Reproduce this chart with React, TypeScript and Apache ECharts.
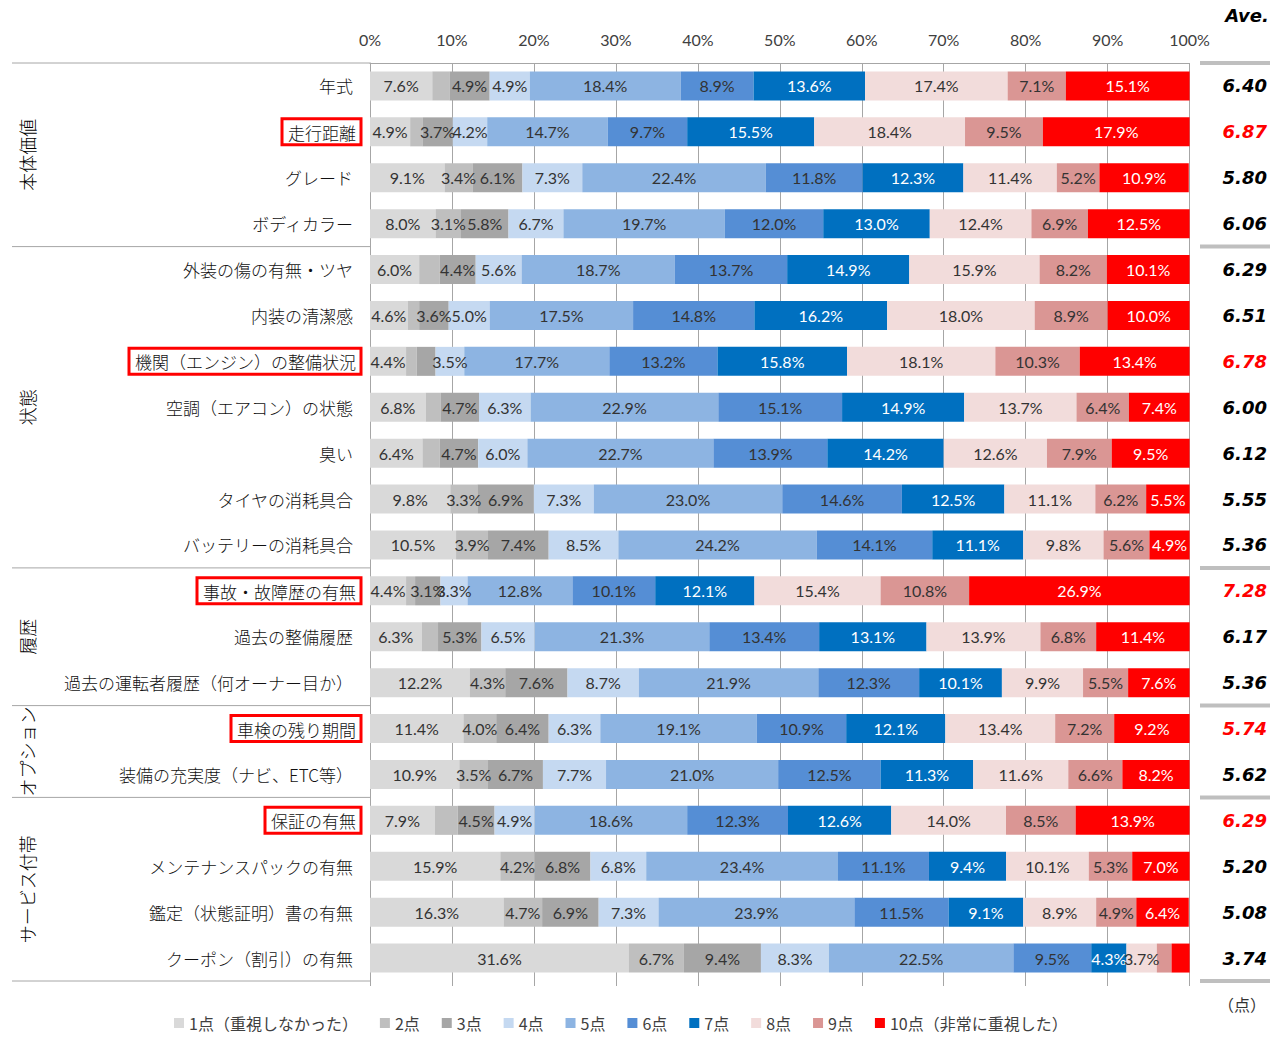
import React, { useEffect, useRef } from "react";
import * as echarts from "echarts";

const categories = [
  "年式",
  "走行距離",
  "グレード",
  "ボディカラー",
  "外装の傷の有無・ツヤ",
  "内装の清潔感",
  "機関（エンジン）の整備状況",
  "空調（エアコン）の状態",
  "臭い",
  "タイヤの消耗具合",
  "バッテリーの消耗具合",
  "事故・故障歴の有無",
  "過去の整備履歴",
  "過去の運転者履歴（何オーナー目か）",
  "車検の残り期間",
  "装備の充実度（ナビ、ETC等）",
  "保証の有無",
  "メンテナンスパックの有無",
  "鑑定（状態証明）書の有無",
  "クーポン（割引）の有無",
];

const scoreNames = [
  "1点（重視しなかった）",
  "2点",
  "3点",
  "4点",
  "5点",
  "6点",
  "7点",
  "8点",
  "9点",
  "10点（非常に重視した）",
];

const p1 = [7.6, 4.9, 9.1, 8.0, 6.0, 4.6, 4.4, 6.8, 6.4, 9.8, 10.5, 4.4, 6.3, 12.2, 11.4, 10.9, 7.9, 15.9, 16.3, 31.6];
const p2 = [2.1, 1.5, 3.4, 3.1, 2.5, 1.4, 1.3, 1.8, 2.1, 3.3, 3.9, 1.1, 2.0, 4.3, 4.0, 3.5, 2.8, 4.2, 4.7, 6.7];
const p3 = [4.9, 3.7, 6.1, 5.8, 4.4, 3.6, 2.3, 4.7, 4.7, 6.9, 7.4, 3.1, 5.3, 7.6, 6.4, 6.7, 4.5, 6.8, 6.9, 9.4];
const p4 = [4.9, 4.2, 7.3, 6.7, 5.6, 5.0, 3.5, 6.3, 6.0, 7.3, 8.5, 3.3, 6.5, 8.7, 6.3, 7.7, 4.9, 6.8, 7.3, 8.3];
const p5 = [18.4, 14.7, 22.4, 19.7, 18.7, 17.5, 17.7, 22.9, 22.7, 23.0, 24.2, 12.8, 21.3, 21.9, 19.1, 21.0, 18.6, 23.4, 23.9, 22.5];
const p6 = [8.9, 9.7, 11.8, 12.0, 13.7, 14.8, 13.2, 15.1, 13.9, 14.6, 14.1, 10.1, 13.4, 12.3, 10.9, 12.5, 12.3, 11.1, 11.5, 9.5];
const p7 = [13.6, 15.5, 12.3, 13.0, 14.9, 16.2, 15.8, 14.9, 14.2, 12.5, 11.1, 12.1, 13.1, 10.1, 12.1, 11.3, 12.6, 9.4, 9.1, 4.3];
const p8 = [17.4, 18.4, 11.4, 12.4, 15.9, 18.0, 18.1, 13.7, 12.6, 11.1, 9.8, 15.4, 13.9, 9.9, 13.4, 11.6, 14.0, 10.1, 8.9, 3.7];
const p9 = [7.1, 9.5, 5.2, 6.9, 8.2, 8.9, 10.3, 6.4, 7.9, 6.2, 5.6, 10.8, 6.8, 5.5, 7.2, 6.6, 8.5, 5.3, 4.9, 1.8];
const p10 = [15.1, 17.9, 10.9, 12.5, 10.1, 10.0, 13.4, 7.4, 9.5, 5.5, 4.9, 26.9, 11.4, 7.6, 9.2, 8.2, 13.9, 7.0, 6.4, 2.2];
const scoreData = [p1, p2, p3, p4, p5, p6, p7, p8, p9, p10];

const aveValues = [6.40, 6.87, 5.80, 6.06, 6.29, 6.51, 6.78, 6.00, 6.12, 5.55, 5.36, 7.28, 6.17, 5.36, 5.74, 5.62, 6.29, 5.20, 5.08, 3.74];
const highlighted = [1, 6, 11, 14, 16];

const groupNames = ["本体価値", "状態", "履歴", "オプション", "サービス付帯"];
const groupSizes = [4, 7, 3, 2, 4];

const xTickPercents = [0, 100, 10];

// styles
const scoreColors = ["#D9D9D9", "#BFBFBF", "#A6A6A6", "#C5D9F1", "#8DB4E2", "#558ED5", "#0070C0", "#F2DCDB", "#DA9694", "#FF0000"];
const labelColors = ["#333", "#333", "#333", "#333", "#333", "#333", "#FFFFFF", "#333", "#333", "#FFFFFF"];
const JP = '"Noto Sans CJK JP", sans-serif';
const NUM = 'Lato, "Noto Sans", sans-serif';
const AVE = '"DejaVu Sans", sans-serif';
const GRID_LEFT = 370;
const GRID_RIGHT = 78;
const GRID_TOP = 63;
const GRID_BOTTOM = 56;
const W = 1270;
const H = 1037;

export default function App() {
  const ref = useRef<HTMLDivElement>(null);

  useEffect(() => {
    if (!ref.current) return;
    const chart = echarts.init(ref.current, null, { renderer: "svg" });
    const hl = new Set(highlighted);

    const series = scoreData.map((d, k) => ({
      name: scoreNames[k],
      type: "bar",
      stack: "total",
      barWidth: 29,
      silent: true,
      xAxisIndex: 0,
      yAxisIndex: 0,
      itemStyle: { color: scoreColors[k] },
      label: {
        show: true,
        position: "inside",
        fontSize: 16,
        fontFamily: NUM,
        color: labelColors[k],
        formatter: (p: any) => (p.value >= 3 ? Number(p.value).toFixed(1) + "%" : ""),
      },
      data: d,
    }));

    chart.setOption({
      animation: false,
      backgroundColor: "#FFFFFF",
      grid: { left: GRID_LEFT, right: GRID_RIGHT, top: GRID_TOP, bottom: GRID_BOTTOM, containLabel: false },
      legend: {
        data: scoreNames,
        left: 174,
        top: 1015,
        padding: 0,
        icon: "rect",
        itemWidth: 10,
        itemHeight: 10,
        itemGap: 22,
        selectedMode: false,
        textStyle: { fontSize: 16, lineHeight: 16, color: "#404040", fontFamily: JP },
      },
      xAxis: [
        {
          type: "value",
          position: "top",
          min: xTickPercents[0],
          max: xTickPercents[1],
          interval: xTickPercents[2],
          axisLine: { show: true, lineStyle: { color: "#A6A6A6", width: 1 } },
          axisTick: { show: false },
          axisLabel: { formatter: "{value}%", fontSize: 16, color: "#404040", fontFamily: NUM, margin: 16 },
          splitLine: { show: true, lineStyle: { color: "#A6A6A6", width: 1 } },
        },
        {
          type: "value",
          position: "bottom",
          min: xTickPercents[0],
          max: xTickPercents[1],
          interval: xTickPercents[2],
          axisLine: { show: false },
          axisTick: { show: true, length: 5, lineStyle: { color: "#A6A6A6" } },
          axisLabel: { show: false },
          splitLine: { show: false },
        },
      ],
      yAxis: [
        {
          type: "category",
          data: categories,
          inverse: true,
          axisLine: { show: true, lineStyle: { color: "#A6A6A6", width: 1 } },
          axisTick: { show: false },
          axisLabel: {
            margin: 9,
            interval: 0,
            formatter: (v: string, i: number) => (hl.has(i) ? `{hl|${v}}` : `{n|${v}}`),
            rich: {
              n: { fontSize: 17, color: "#111", fontFamily: JP, fontWeight: 300, padding: [0, 8, 0, 0] },
              hl: {
                fontSize: 17,
                color: "#111",
                fontFamily: JP,
                fontWeight: 300,
                borderColor: "#FF0000",
                borderWidth: 3,
                padding: [5, 5, 4, 6],
              },
            },
          },
        },
        {
          type: "category",
          data: categories,
          inverse: true,
          position: "right",
          axisLine: { show: false },
          axisTick: { show: false },
          axisLabel: {
            margin: 33,
            interval: 0,
            formatter: (_v: string, i: number) =>
              hl.has(i) ? `{r|${aveValues[i].toFixed(2)}}` : `{k|${aveValues[i].toFixed(2)}}`,
            rich: {
              r: { fontSize: 18, color: "#FF0000", fontFamily: AVE, fontWeight: "bold", fontStyle: "italic" },
              k: { fontSize: 18, color: "#000000", fontFamily: AVE, fontWeight: "bold", fontStyle: "italic" },
            },
          },
        },
      ],
      series,
    });

    // layout helpers derived from the category axis
    const centers = categories.map((_, i) => chart.convertToPixel({ yAxisIndex: 0 }, i) as number);
    const half = (centers[1] - centers[0]) / 2;
    const graphics: any[] = [];
    const top = centers[0] - half;
    const boundaries: number[] = [top];
    let idx = 0;
    groupSizes.forEach((n, g) => {
      const start = idx;
      const end = idx + n - 1;
      const yMid = (centers[start] + centers[end]) / 2;
      graphics.push({
        type: "text",
        x: 27,
        y: yMid,
        rotation: Math.PI / 2,
        style: {
          text: groupNames[g],
          font: `300 18px ${JP}`,
          fill: "#000",
          align: "center",
          verticalAlign: "middle",
          textAlign: "center",
          textVerticalAlign: "middle",
        },
      });
      boundaries.push(centers[end] + half);
      idx += n;
    });

    boundaries.forEach((y) => {
      graphics.push({
        type: "line",
        shape: { x1: 12, y1: y, x2: GRID_LEFT, y2: y },
        style: { stroke: "#A6A6A6", lineWidth: 1 },
      });
      graphics.push({
        type: "line",
        shape: { x1: 1200, y1: y, x2: W, y2: y },
        style: { stroke: "#BFBFBF", lineWidth: 4 },
      });
    });

    graphics.push({
      type: "text",
      x: 1247,
      y: 15,
      style: {
        text: "Ave.",
        font: `italic bold 18px ${AVE}`,
        fill: "#000",
        align: "center",
        verticalAlign: "middle",
        textAlign: "center",
        textVerticalAlign: "middle",
      },
    });
    graphics.push({
      type: "text",
      x: 1242,
      y: 1004,
      style: {
        text: "（点）",
        font: `16px ${JP}`,
        fill: "#333",
        align: "center",
        verticalAlign: "middle",
        textAlign: "center",
        textVerticalAlign: "middle",
      },
    });

    chart.setOption({ graphic: graphics });

    return () => chart.dispose();
  }, []);

  return (
    <div
      ref={ref}
      style={{ position: "fixed", left: 0, top: 0, width: W, height: H, background: "#fff" }}
    />
  );
}
